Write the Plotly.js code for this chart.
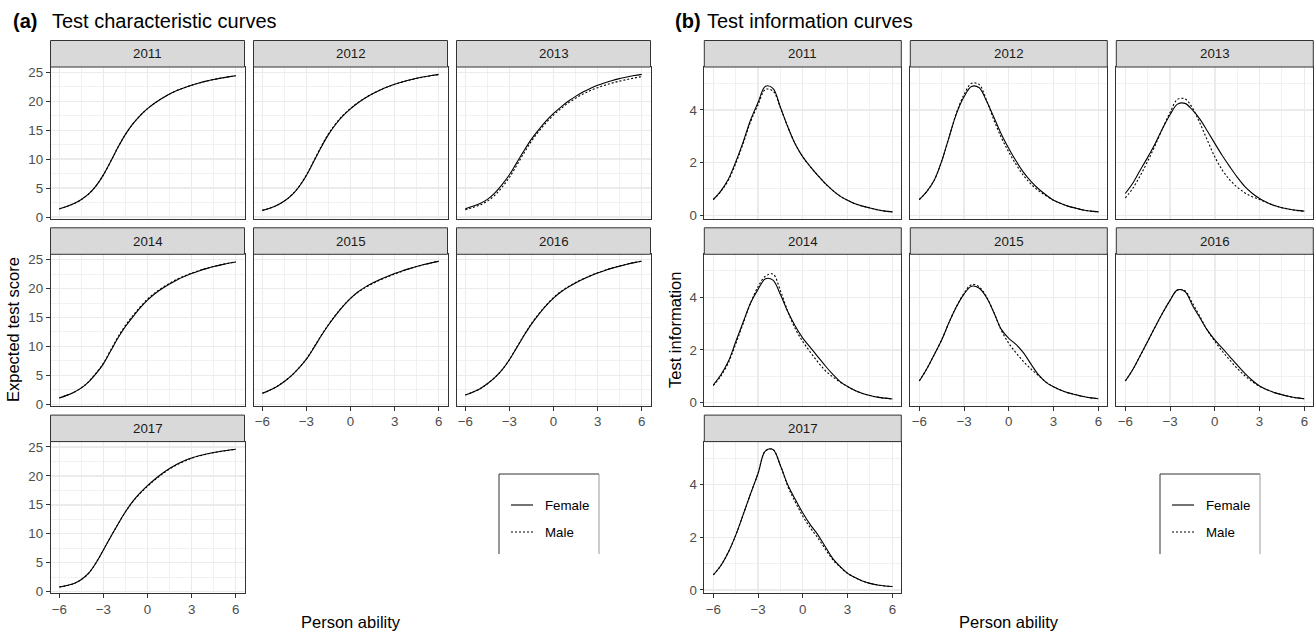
<!DOCTYPE html>
<html>
<head>
<meta charset="utf-8">
<script src="https://cdn.plot.ly/plotly-3.0.1.min.js"></script>
<style>html,body{margin:0;padding:0;background:#fff;}#chart{width:1316px;height:635px;}</style>
</head>
<body>
<div id="chart"></div>
<script>
// ---------------- DATA ----------------
const years = ['2011', '2012', '2013', '2014', '2015', '2016', '2017'];
const groups = ['Female', 'Male'];

// Person ability grid
const theta = [-6, -5.5, -5, -4.5, -4, -3.5, -3, -2.5, -2, -1.5, -1, -0.5, 0, 0.5, 1, 1.5, 2, 2.5, 3, 3.5, 4, 4.5, 5, 5.5, 6];

// (a) Expected test score
const tccFemale2011 = [1.44, 1.84, 2.34, 3.04, 3.99, 5.39, 7.29, 9.64, 12.09, 14.29, 16.09, 17.54, 18.72, 19.70, 20.53, 21.25, 21.85, 22.35, 22.78, 23.15, 23.48, 23.76, 24.00, 24.21, 24.41];
const tccMale2011   = [1.40, 1.81, 2.31, 3.02, 3.98, 5.38, 7.28, 9.63, 12.08, 14.28, 16.08, 17.54, 18.72, 19.70, 20.53, 21.25, 21.85, 22.35, 22.78, 23.15, 23.48, 23.76, 24.00, 24.21, 24.41];
const tccFemale2012 = [1.15, 1.52, 2.03, 2.76, 3.78, 5.23, 7.18, 9.58, 12.03, 14.23, 16.03, 17.50, 18.70, 19.70, 20.55, 21.29, 21.92, 22.46, 22.93, 23.33, 23.68, 23.98, 24.24, 24.46, 24.65];
const tccMale2012   = [1.15, 1.52, 2.04, 2.79, 3.83, 5.30, 7.28, 9.70, 12.17, 14.37, 16.15, 17.60, 18.78, 19.76, 20.59, 21.31, 21.93, 22.46, 22.92, 23.31, 23.65, 23.95, 24.20, 24.42, 24.62];
const tccFemale2013 = [1.44, 1.85, 2.35, 3.05, 4.15, 5.60, 7.30, 9.40, 11.50, 13.45, 15.10, 16.60, 17.90, 19.00, 20.00, 20.85, 21.60, 22.22, 22.75, 23.20, 23.60, 23.92, 24.20, 24.44, 24.65];
const tccMale2013   = [1.27, 1.64, 2.10, 2.74, 3.75, 5.15, 6.85, 8.95, 11.10, 13.10, 14.80, 16.30, 17.62, 18.72, 19.70, 20.52, 21.24, 21.84, 22.35, 22.78, 23.16, 23.48, 23.76, 24.02, 24.25];
const tccFemale2014 = [1.10, 1.55, 2.10, 2.85, 3.90, 5.30, 7.00, 9.25, 11.50, 13.45, 15.10, 16.65, 18.00, 19.10, 20.00, 20.80, 21.50, 22.10, 22.60, 23.05, 23.45, 23.80, 24.10, 24.37, 24.60];
const tccMale2014   = [1.10, 1.55, 2.10, 2.87, 3.95, 5.38, 7.12, 9.40, 11.68, 13.65, 15.30, 16.85, 18.18, 19.25, 20.13, 20.92, 21.60, 22.18, 22.67, 23.10, 23.48, 23.82, 24.12, 24.38, 24.60];
const tccFemale2015 = [1.90, 2.45, 3.10, 3.95, 5.00, 6.30, 7.80, 9.75, 11.80, 13.70, 15.40, 16.95, 18.30, 19.40, 20.25, 20.95, 21.55, 22.10, 22.60, 23.05, 23.45, 23.82, 24.15, 24.44, 24.70];
const tccMale2015   = [1.90, 2.45, 3.10, 3.95, 5.00, 6.32, 7.85, 9.82, 11.88, 13.78, 15.48, 17.00, 18.30, 19.35, 20.17, 20.86, 21.46, 22.00, 22.50, 22.97, 23.40, 23.80, 24.16, 24.47, 24.75];
const tccFemale2016 = [1.60, 2.10, 2.70, 3.55, 4.60, 5.95, 7.70, 9.80, 11.90, 13.85, 15.55, 17.05, 18.35, 19.40, 20.25, 20.98, 21.62, 22.18, 22.68, 23.13, 23.53, 23.88, 24.20, 24.48, 24.72];
const tccMale2016   = [1.60, 2.10, 2.70, 3.56, 4.62, 5.98, 7.75, 9.87, 11.99, 13.95, 15.65, 17.15, 18.44, 19.48, 20.32, 21.04, 21.67, 22.22, 22.72, 23.16, 23.56, 23.91, 24.23, 24.50, 24.75];
const tccFemale2017 = [0.80, 1.05, 1.40, 2.10, 3.20, 5.00, 7.20, 9.50, 11.70, 13.80, 15.60, 17.05, 18.30, 19.42, 20.42, 21.27, 22.00, 22.60, 23.08, 23.46, 23.77, 24.03, 24.25, 24.44, 24.60];
const tccMale2017   = [0.80, 1.05, 1.40, 2.10, 3.20, 5.00, 7.20, 9.50, 11.70, 13.80, 15.55, 16.98, 18.20, 19.30, 20.30, 21.17, 21.92, 22.54, 23.04, 23.43, 23.75, 24.01, 24.23, 24.42, 24.58];

// (b) Test information
const infoFemale2011 = [0.60, 0.92, 1.36, 2.02, 2.78, 3.62, 4.28, 4.90, 4.82, 4.10, 3.35, 2.70, 2.22, 1.85, 1.52, 1.21, 0.95, 0.73, 0.57, 0.44, 0.35, 0.28, 0.21, 0.16, 0.13];
const infoMale2011   = [0.60, 0.90, 1.32, 1.96, 2.72, 3.55, 4.20, 4.78, 4.72, 4.08, 3.35, 2.70, 2.22, 1.85, 1.52, 1.21, 0.95, 0.73, 0.57, 0.44, 0.35, 0.28, 0.21, 0.16, 0.13];
const infoFemale2012 = [0.60, 0.90, 1.33, 2.05, 2.97, 3.87, 4.50, 4.89, 4.85, 4.35, 3.72, 3.08, 2.54, 2.05, 1.62, 1.28, 1.00, 0.77, 0.57, 0.45, 0.34, 0.27, 0.20, 0.16, 0.13];
const infoMale2012   = [0.60, 0.90, 1.33, 2.05, 2.97, 3.90, 4.58, 5.01, 4.97, 4.38, 3.62, 2.95, 2.40, 1.92, 1.50, 1.18, 0.93, 0.74, 0.57, 0.45, 0.34, 0.27, 0.20, 0.16, 0.13];
const infoFemale2013 = [0.83, 1.22, 1.71, 2.20, 2.72, 3.30, 3.82, 4.22, 4.25, 4.00, 3.65, 3.20, 2.73, 2.27, 1.85, 1.45, 1.10, 0.84, 0.64, 0.49, 0.37, 0.29, 0.23, 0.19, 0.16];
const infoMale2013   = [0.66, 1.02, 1.50, 2.05, 2.65, 3.30, 3.90, 4.40, 4.42, 4.08, 3.50, 2.85, 2.22, 1.72, 1.35, 1.07, 0.86, 0.71, 0.60, 0.48, 0.37, 0.29, 0.23, 0.18, 0.15];
const infoFemale2014 = [0.67, 1.05, 1.55, 2.30, 3.05, 3.78, 4.30, 4.70, 4.65, 4.10, 3.45, 2.90, 2.45, 2.10, 1.75, 1.40, 1.08, 0.80, 0.61, 0.46, 0.35, 0.27, 0.21, 0.17, 0.14];
const infoMale2014   = [0.65, 1.00, 1.50, 2.22, 3.00, 3.78, 4.40, 4.80, 4.88, 4.25, 3.45, 2.80, 2.32, 1.92, 1.55, 1.22, 0.98, 0.78, 0.61, 0.46, 0.35, 0.27, 0.21, 0.17, 0.14];
const infoFemale2015 = [0.82, 1.28, 1.82, 2.38, 3.05, 3.65, 4.12, 4.42, 4.35, 4.00, 3.42, 2.78, 2.44, 2.20, 1.88, 1.45, 1.05, 0.77, 0.60, 0.47, 0.37, 0.30, 0.23, 0.18, 0.15];
const infoMale2015   = [0.82, 1.28, 1.82, 2.38, 3.05, 3.66, 4.15, 4.48, 4.40, 4.02, 3.42, 2.74, 2.25, 1.88, 1.55, 1.27, 1.02, 0.78, 0.60, 0.47, 0.37, 0.30, 0.23, 0.18, 0.15];
const infoFemale2016 = [0.82, 1.25, 1.78, 2.32, 2.87, 3.40, 3.88, 4.28, 4.22, 3.70, 3.22, 2.75, 2.38, 2.07, 1.75, 1.43, 1.12, 0.85, 0.63, 0.49, 0.38, 0.30, 0.23, 0.18, 0.15];
const infoMale2016   = [0.82, 1.25, 1.78, 2.32, 2.87, 3.40, 3.88, 4.27, 4.25, 3.78, 3.27, 2.75, 2.33, 1.95, 1.62, 1.30, 1.03, 0.80, 0.62, 0.49, 0.38, 0.30, 0.23, 0.18, 0.15];
const infoFemale2017 = [0.57, 0.92, 1.42, 2.07, 2.85, 3.65, 4.42, 5.28, 5.33, 4.72, 3.98, 3.43, 2.92, 2.48, 2.10, 1.65, 1.20, 0.89, 0.63, 0.47, 0.34, 0.25, 0.19, 0.15, 0.13];
const infoMale2017   = [0.57, 0.92, 1.42, 2.07, 2.85, 3.65, 4.42, 5.28, 5.33, 4.72, 3.92, 3.33, 2.80, 2.36, 1.98, 1.56, 1.15, 0.87, 0.63, 0.47, 0.34, 0.25, 0.19, 0.15, 0.13];

const xTickVals = [-6, -3, 0, 3, 6];
const xMinorVals = [-4.5, -1.5, 1.5, 4.5];
const tccTickVals = [0, 5, 10, 15, 20, 25];
const tccMinorVals = [2.5, 7.5, 12.5, 17.5, 22.5];
const infoTickVals = [0, 2, 4];
const infoMinorVals = [1, 3, 5];

const panelTitles = ['Test characteristic curves', 'Test information curves'];
const panelTags = ['(a)', '(b)'];
const yTitles = ['Expected test score', 'Test information'];
const xTitle = 'Person ability';

// ---------------- LAYOUT ----------------
const W = 1316, H = 635;
const fx = p => p / W;
const fy = p => 1 - p / H;
const FONT = 'Liberation Sans, Arial, Helvetica, sans-serif';

const tccFemale = [tccFemale2011, tccFemale2012, tccFemale2013, tccFemale2014, tccFemale2015, tccFemale2016, tccFemale2017];
const tccMale = [tccMale2011, tccMale2012, tccMale2013, tccMale2014, tccMale2015, tccMale2016, tccMale2017];
const infoFemale = [infoFemale2011, infoFemale2012, infoFemale2013, infoFemale2014, infoFemale2015, infoFemale2016, infoFemale2017];
const infoMale = [infoMale2011, infoMale2012, infoMale2013, infoMale2014, infoMale2015, infoMale2016, infoMale2017];

const charts = [
  {cols: [50.5, 253.5, 456.5], w: 194, yr: [-0.25, 25.92], yt: tccTickVals, ym: tccMinorVals,
   fem: tccFemale, mal: tccMale, left: 50.5, right: 650.5, tagX: 11, titleX: 50, ytX: 13, legX: 499},
  {cols: [704.3, 910.3, 1116.3], w: 197, yr: [-0.12, 5.63], yt: infoTickVals, ym: infoMinorVals,
   fem: infoFemale, mal: infoMale, left: 704.3, right: 1313.3, tagX: 673, titleX: 705, ytX: 675, legX: 1160}
];
const rowTop = [67, 254.3, 441.6];
const PH = 151.5, SH = 26.5;

const traces = [];
const shapes = [];
const annotations = [];
const layout = {
  width: W, height: H,
  margin: {l: 0, r: 0, t: 0, b: 0},
  paper_bgcolor: '#ffffff', plot_bgcolor: '#ffffff',
  showlegend: false,
  font: {family: FONT, color: '#000'}
};

charts.forEach((ch, c) => {
  years.forEach((yr, i) => {
    const k = c * 7 + i + 1;
    const xn = 'x' + (k === 1 ? '' : k), yn = 'y' + (k === 1 ? '' : k);
    const row = Math.floor(i / 3), col = i % 3;
    const x0 = ch.cols[col], x1 = x0 + ch.w;
    const top = rowTop[row], bot = top + PH;
    const showX = (col === 0 && row === 2) || (col > 0 && row === 1);
    const showY = col === 0;
    layout['xaxis' + (k === 1 ? '' : k)] = {
      domain: [fx(x0), fx(x1)], anchor: yn, range: [-6.6, 6.6], fixedrange: true,
      tickvals: xTickVals, showticklabels: showX, ticks: showX ? 'outside' : '',
      ticklen: 3.7, tickwidth: 1, tickcolor: '#333333',
      tickfont: {family: FONT, size: 13.3, color: '#4D4D4D'},
      showgrid: true, gridcolor: '#EBEBEB', gridwidth: 1.4,
      minor: {tickvals: xMinorVals, showgrid: true, gridcolor: '#EEEEEE', gridwidth: 0.8, ticks: ''},
      zeroline: false, showline: true, mirror: true, linecolor: '#333333', linewidth: 1
    };
    layout['yaxis' + (k === 1 ? '' : k)] = {
      domain: [fy(bot), fy(top)], anchor: xn, range: ch.yr, fixedrange: true,
      tickvals: ch.yt, showticklabels: showY, ticks: showY ? 'outside' : '',
      ticklen: 3.7, tickwidth: 1, tickcolor: '#333333',
      tickfont: {family: FONT, size: 13.3, color: '#4D4D4D'},
      showgrid: true, gridcolor: '#EBEBEB', gridwidth: 1.4,
      minor: {tickvals: ch.ym, showgrid: true, gridcolor: '#EEEEEE', gridwidth: 0.8, ticks: ''},
      zeroline: false, showline: true, mirror: true, linecolor: '#333333', linewidth: 1
    };
    shapes.push({type: 'rect', xref: 'paper', yref: 'paper', x0: fx(x0), x1: fx(x1), y0: fy(top), y1: fy(top - SH),
      fillcolor: '#D9D9D9', line: {color: '#333333', width: 1}});
    annotations.push({xref: 'paper', yref: 'paper', x: fx((x0 + x1) / 2), y: fy(top - SH / 2), text: yr,
      showarrow: false, xanchor: 'center', yanchor: 'middle', font: {family: FONT, size: 13.3, color: '#1A1A1A'}});
    traces.push({type: 'scatter', mode: 'lines', name: groups[0], x: theta, y: ch.fem[i], xaxis: xn, yaxis: yn,
      line: {color: '#000000', width: 1.1, shape: 'spline', smoothing: 1}, hoverinfo: 'skip'});
    traces.push({type: 'scatter', mode: 'lines', name: groups[1], x: theta, y: ch.mal[i], xaxis: xn, yaxis: yn,
      line: {color: '#000000', width: 1.1, dash: '2px,2px', shape: 'spline', smoothing: 1}, hoverinfo: 'skip'});
  });

  annotations.push({xref: 'paper', yref: 'paper', x: fx(ch.tagX), y: fy(21), text: '<b>' + panelTags[c] + '</b>',
    showarrow: false, xanchor: 'left', yanchor: 'middle', font: {family: FONT, size: 20, color: '#000'}});
  annotations.push({xref: 'paper', yref: 'paper', x: fx(ch.titleX), y: fy(21), text: panelTitles[c],
    showarrow: false, xanchor: 'left', yanchor: 'middle', font: {family: FONT, size: 20, color: '#000'}});
  annotations.push({xref: 'paper', yref: 'paper', x: fx(ch.ytX), y: fy(330), text: yTitles[c], textangle: -90,
    showarrow: false, xanchor: 'center', yanchor: 'middle', font: {family: FONT, size: 16.5, color: '#000'}});
  annotations.push({xref: 'paper', yref: 'paper', x: fx((ch.left + ch.right) / 2), y: fy(622), text: xTitle,
    showarrow: false, xanchor: 'center', yanchor: 'middle', font: {family: FONT, size: 16.5, color: '#000'}});

  const L = ch.legX, R = L + 100, T = 474, B = 554;
  shapes.push({type: 'line', xref: 'paper', yref: 'paper', x0: fx(L), x1: fx(L), y0: fy(T), y1: fy(B), line: {color: '#333333', width: 1}});
  shapes.push({type: 'line', xref: 'paper', yref: 'paper', x0: fx(L), x1: fx(R), y0: fy(T), y1: fy(T), line: {color: '#333333', width: 1}});
  shapes.push({type: 'line', xref: 'paper', yref: 'paper', x0: fx(R), x1: fx(R), y0: fy(T), y1: fy(B), line: {color: '#9A9A9A', width: 1}});
  const legY = [505, 532];
  groups.forEach((g, gi) => {
    shapes.push({type: 'line', xref: 'paper', yref: 'paper', x0: fx(L + 12), x1: fx(L + 34), y0: fy(legY[gi]), y1: fy(legY[gi]),
      line: {color: '#000000', width: 1.1, dash: gi === 0 ? 'solid' : '2px,2px'}});
    annotations.push({xref: 'paper', yref: 'paper', x: fx(L + 44), y: fy(legY[gi]), text: g, showarrow: false,
      xanchor: 'left', yanchor: 'middle', font: {family: FONT, size: 13.3, color: '#000'}});
  });
});

layout.shapes = shapes;
layout.annotations = annotations;

Plotly.newPlot('chart', traces, layout, {displayModeBar: false, staticPlot: true});
</script>
</body>
</html>
